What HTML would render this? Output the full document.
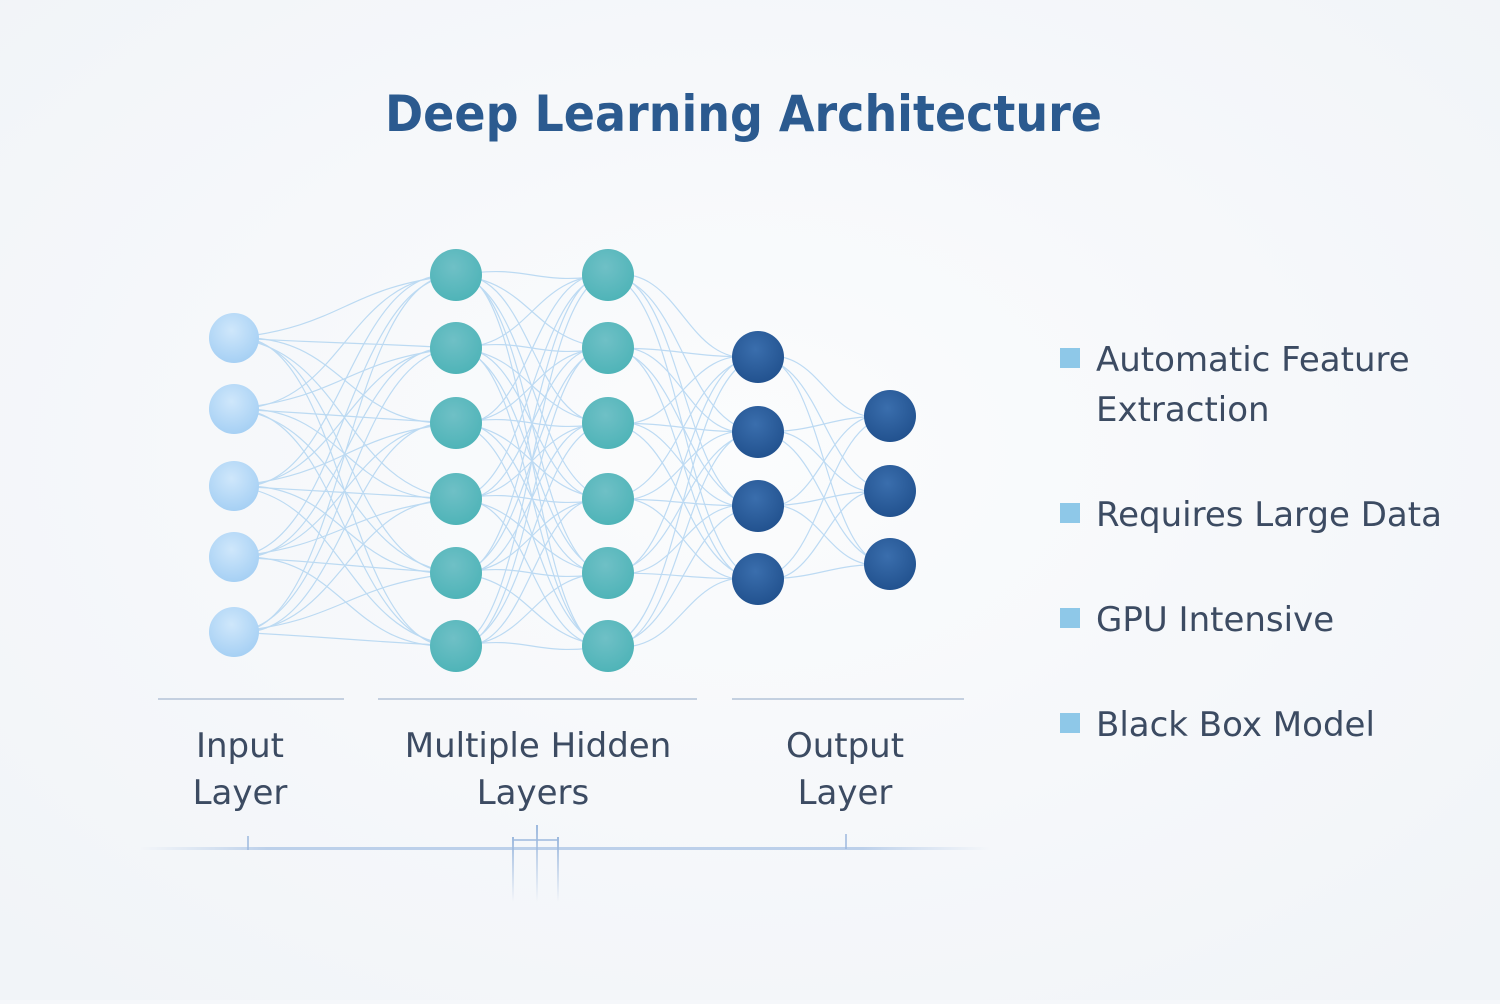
<!DOCTYPE html>
<html><head><meta charset="utf-8"><style>
html,body{margin:0;padding:0;background:#f5f7fa;}
body{width:1500px;height:1000px;overflow:hidden;font-family:"DejaVu Sans","Liberation Sans",sans-serif;}
</style></head><body>
<svg width="1500" height="1000" xmlns="http://www.w3.org/2000/svg">
<defs>
<radialGradient id="bg" cx="50%" cy="45%" r="70%"><stop offset="0" stop-color="#fbfcfd"/><stop offset="1" stop-color="#f1f4f8"/></radialGradient>
<radialGradient id="gi" cx="45%" cy="35%" r="65%"><stop offset="0" stop-color="#cfe7fb"/><stop offset="1" stop-color="#a6d0f4"/></radialGradient>
<radialGradient id="gh" cx="45%" cy="35%" r="65%"><stop offset="0" stop-color="#6fc0c6"/><stop offset="1" stop-color="#4fb4b8"/></radialGradient>
<radialGradient id="go" cx="45%" cy="35%" r="65%"><stop offset="0" stop-color="#3a6ead"/><stop offset="1" stop-color="#22528f"/></radialGradient>
<linearGradient id="fl" x1="0" x2="1"><stop offset="0" stop-color="#c5d6ec" stop-opacity="0"/><stop offset="0.15" stop-color="#bcd0ea"/><stop offset="0.85" stop-color="#bcd0ea"/><stop offset="1" stop-color="#c5d6ec" stop-opacity="0"/></linearGradient>
<linearGradient id="vf" x1="0" y1="0" x2="0" y2="1"><stop offset="0" stop-color="#9db9de"/><stop offset="1" stop-color="#9db9de" stop-opacity="0"/></linearGradient>
</defs>
<rect width="1500" height="1000" fill="url(#bg)"/>
<text x="385" y="131" textLength="717" lengthAdjust="spacingAndGlyphs" font-family="DejaVu Sans, Liberation Sans, sans-serif" font-weight="bold" font-size="50" fill="#2b5a8f">Deep Learning Architecture</text>
<g id="lines" stroke="#a9d0f0" stroke-width="1.2" fill="none" opacity="0.75"></g>
<g id="nodes"></g>
<g stroke="#b3c3d8" stroke-width="1.5">
<line x1="158" y1="699" x2="344" y2="699"/>
<line x1="378" y1="699" x2="697" y2="699"/>
<line x1="732" y1="699" x2="964" y2="699"/>
</g>
<g font-size="34" fill="#3c4b62" text-anchor="middle">
<text x="240" y="757">Input</text><text x="240" y="804">Layer</text>
<text x="538" y="757">Multiple Hidden</text><text x="533" y="804">Layers</text>
<text x="845" y="757">Output</text><text x="845" y="804">Layer</text>
</g>
<rect x="140" y="847" width="850" height="3" fill="url(#fl)"/>
<g stroke="#9db9de" stroke-width="1.5" fill="none">
<line x1="248" y1="836" x2="248" y2="850"/>
<line x1="846" y1="834" x2="846" y2="849"/>
<line x1="513" y1="840" x2="558" y2="840"/>
</g>
<rect x="512" y="837" width="2" height="65" fill="url(#vf)"/>
<rect x="536" y="825" width="2" height="77" fill="url(#vf)"/>
<rect x="557" y="837" width="2" height="65" fill="url(#vf)"/>
<g fill="#8ec8e8">
<rect x="1060" y="348" width="20" height="20"/>
<rect x="1060" y="503" width="20" height="20"/>
<rect x="1060" y="608" width="20" height="20"/>
<rect x="1060" y="713" width="20" height="20"/>
</g>
<g font-size="34" fill="#3c4b62">
<text x="1096" y="371">Automatic Feature</text>
<text x="1096" y="421">Extraction</text>
<text x="1096" y="526">Requires Large Data</text>
<text x="1096" y="631">GPU Intensive</text>
<text x="1096" y="736">Black Box Model</text>
</g>
</svg>
<script>
var L=[
 {x:234,ys:[338,409,486,557,632],r:25,f:"url(#gi)"},
 {x:456,ys:[275,348,423,499,573,646],r:26,f:"url(#gh)"},
 {x:608,ys:[275,348,423,499,573,646],r:26,f:"url(#gh)"},
 {x:758,ys:[357,432,506,579],r:26,f:"url(#go)"},
 {x:890,ys:[416,491,564],r:26,f:"url(#go)"}];
var ns="http://www.w3.org/2000/svg",lg=document.getElementById("lines"),ng=document.getElementById("nodes");
for(var i=0;i<L.length-1;i++){var a=L[i],b=L[i+1];
 a.ys.forEach(function(y1,p){b.ys.forEach(function(y2,q){
  var e=document.createElementNS(ns,"path");var dx=(b.x-a.x)/2;var w=((p*7+q*3)%5-2)*6;
  e.setAttribute("d","M"+a.x+" "+y1+" C"+(a.x+dx)+" "+(y1+w)+" "+(b.x-dx)+" "+(y2-w)+" "+b.x+" "+y2);lg.appendChild(e);});});}
L.forEach(function(l){l.ys.forEach(function(y){var c=document.createElementNS(ns,"circle");
 c.setAttribute("cx",l.x);c.setAttribute("cy",y);c.setAttribute("r",l.r);c.setAttribute("fill",l.f);ng.appendChild(c);});});
</script>
</body></html>
